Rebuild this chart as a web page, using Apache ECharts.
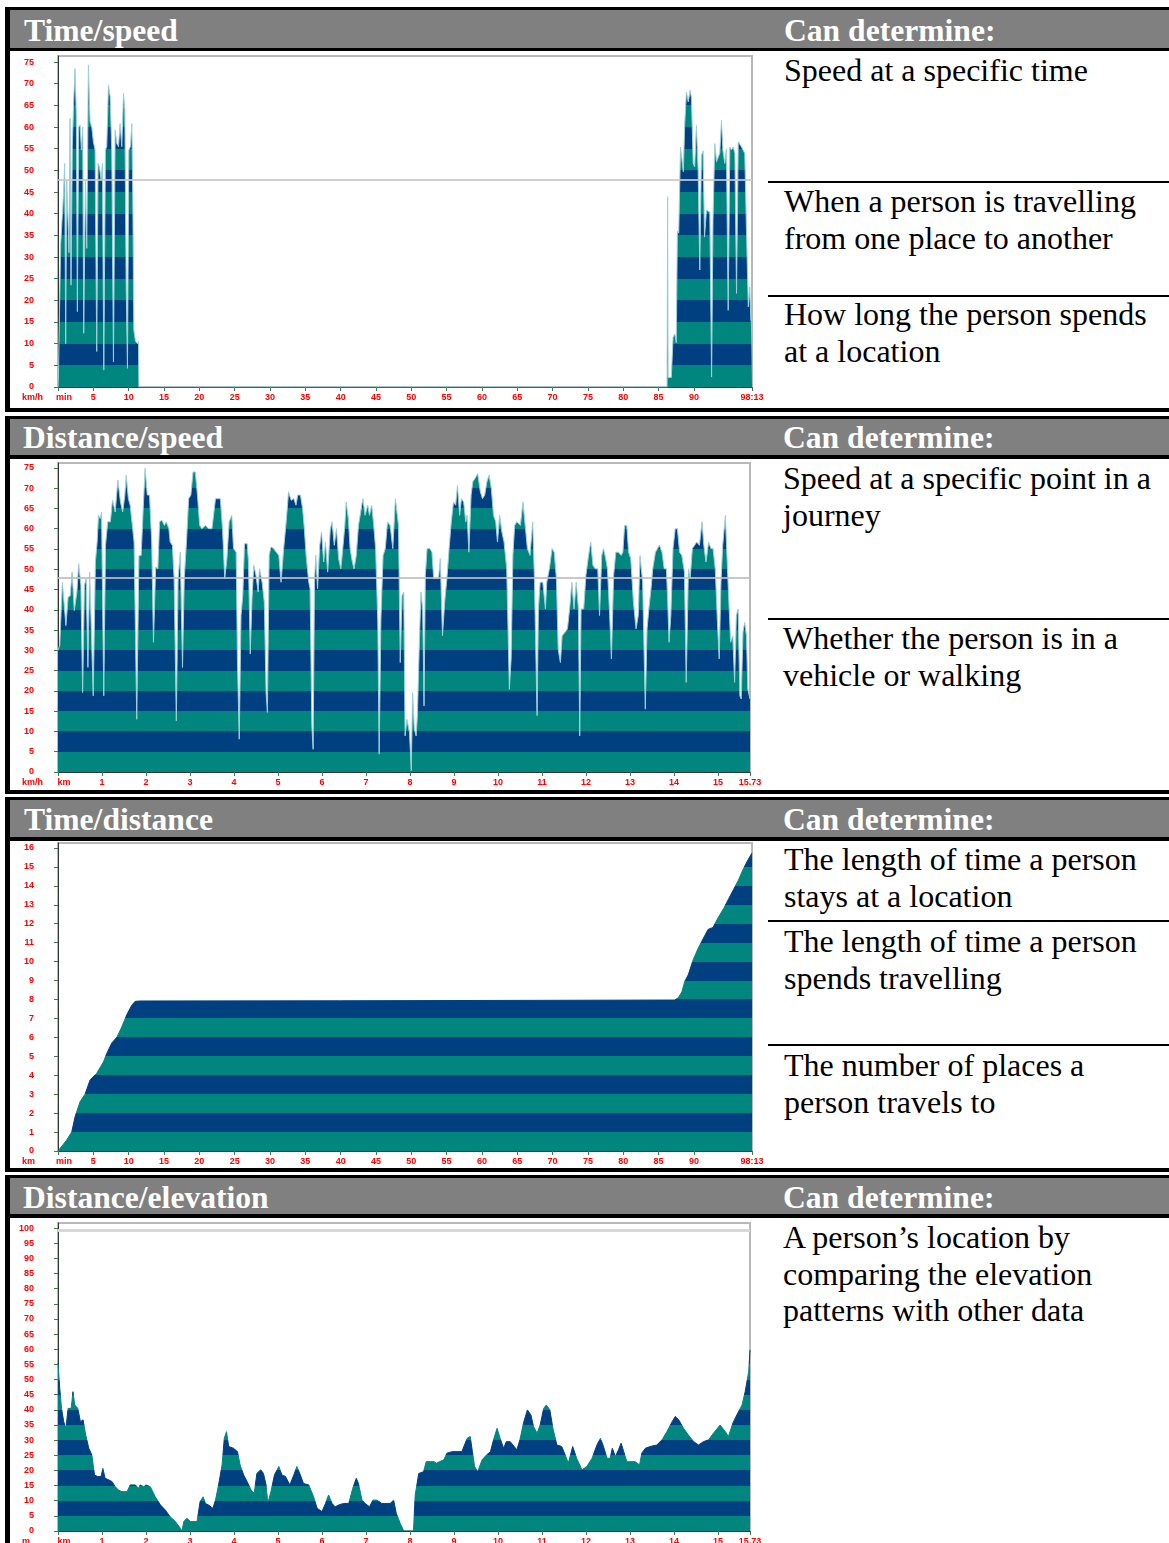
<!DOCTYPE html>
<html><head><meta charset="utf-8">
<script src="https://cdn.jsdelivr.net/npm/echarts@6/dist/echarts.min.js"></script>
<style>
html,body{margin:0;padding:0;background:#fff;}
#page{position:relative;width:1169px;height:1543px;overflow:hidden;background:#fff;font-family:"Liberation Serif","Times New Roman",serif;}
.blk{position:absolute;background:#000;}
.hdr{position:absolute;background:#808080;}
.htxt{position:absolute;color:#fff;font-weight:bold;font-size:31.6px;line-height:31px;white-space:nowrap;}
.btxt{position:absolute;color:#000;font-size:32px;line-height:36.7px;white-space:nowrap;}
.chart{position:absolute;}
</style></head>
<body>
<div id="page">
  <!-- row 1 -->
  <div class="blk" style="left:5px;top:7px;width:1164px;height:3px"></div>
  <div class="hdr" style="left:10px;top:10px;width:1159px;height:38px"></div>
  <div class="blk" style="left:5px;top:48px;width:1164px;height:3px"></div>
  <div class="blk" style="left:5px;top:7px;width:5px;height:405px"></div>
  <div class="blk" style="left:5px;top:408px;width:1164px;height:4px"></div>
  <div class="htxt" style="left:24px;top:15px">Time/speed</div>
  <div class="htxt" style="left:784px;top:15px">Can determine:</div>
  <div class="blk" style="left:768px;top:181px;width:401px;height:2px"></div>
  <div class="blk" style="left:768px;top:295px;width:401px;height:2px"></div>
  <div class="btxt" style="left:784px;top:52px">Speed at a specific time</div>
  <div class="btxt" style="left:784px;top:183px">When a person is travelling<br>from one place to another</div>
  <div class="btxt" style="left:784px;top:296px">How long the person spends<br>at a location</div>
  <div class="chart" id="c1" style="left:10px;top:51px;width:758px;height:357px"></div>

  <!-- row 2 -->
  <div class="blk" style="left:5px;top:416px;width:1164px;height:3px"></div>
  <div class="hdr" style="left:10px;top:419px;width:1159px;height:36px"></div>
  <div class="blk" style="left:5px;top:455px;width:1164px;height:4px"></div>
  <div class="blk" style="left:5px;top:416px;width:5px;height:378px"></div>
  <div class="blk" style="left:5px;top:790px;width:1164px;height:4px"></div>
  <div class="htxt" style="left:23px;top:422px">Distance/speed</div>
  <div class="htxt" style="left:783px;top:422px">Can determine:</div>
  <div class="blk" style="left:768px;top:618px;width:401px;height:2px"></div>
  <div class="btxt" style="left:783px;top:460px">Speed at a specific point in a<br>journey</div>
  <div class="btxt" style="left:783px;top:620px">Whether the person is in a<br>vehicle or walking</div>
  <div class="chart" id="c2" style="left:10px;top:459px;width:758px;height:331px"></div>

  <!-- row 3 -->
  <div class="blk" style="left:5px;top:797px;width:1164px;height:3px"></div>
  <div class="hdr" style="left:10px;top:800px;width:1159px;height:37px"></div>
  <div class="blk" style="left:5px;top:837px;width:1164px;height:4px"></div>
  <div class="blk" style="left:5px;top:797px;width:5px;height:375px"></div>
  <div class="blk" style="left:5px;top:1168px;width:1164px;height:4px"></div>
  <div class="htxt" style="left:24px;top:804px">Time/distance</div>
  <div class="htxt" style="left:783px;top:804px">Can determine:</div>
  <div class="blk" style="left:768px;top:920px;width:401px;height:2px"></div>
  <div class="blk" style="left:768px;top:1044px;width:401px;height:2px"></div>
  <div class="btxt" style="left:784px;top:841px">The length of time a person<br>stays at a location</div>
  <div class="btxt" style="left:784px;top:923px">The length of time a person<br>spends travelling</div>
  <div class="btxt" style="left:784px;top:1047px">The number of places a<br>person travels to</div>
  <div class="chart" id="c3" style="left:10px;top:841px;width:758px;height:327px"></div>

  <!-- row 4 -->
  <div class="blk" style="left:5px;top:1175px;width:1164px;height:3px"></div>
  <div class="hdr" style="left:10px;top:1178px;width:1159px;height:36px"></div>
  <div class="blk" style="left:5px;top:1214px;width:1164px;height:4px"></div>
  <div class="blk" style="left:5px;top:1175px;width:5px;height:368px"></div>
  <div class="htxt" style="left:23px;top:1182px">Distance/elevation</div>
  <div class="htxt" style="left:783px;top:1182px">Can determine:</div>
  <div class="btxt" style="left:783px;top:1219px">A person’s location by<br>comparing the elevation<br>patterns with other data</div>
  <div class="chart" id="c4" style="left:10px;top:1218px;width:758px;height:325px"></div>
</div>
<script>
// ---------- data ----------
const timeTickValues = [0,5,10,15,20,25,30,35,40,45,50,55,60,65,70,75,80,85,90,98.22];
const timeTickLabels = ['min','5','10','15','20','25','30','35','40','45','50','55','60','65','70','75','80','85','90','98:13'];
const distTickValues = [0,1,2,3,4,5,6,7,8,9,10,11,12,13,14,15,15.73];
const distTickLabels = ['km','1','2','3','4','5','6','7','8','9','10','11','12','13','14','15','15.73'];
const speedTicks = [0,5,10,15,20,25,30,35,40,45,50,55,60,65,70,75];
const kmTicks = [0,1,2,3,4,5,6,7,8,9,10,11,12,13,14,15,16];
const elevTicks = [0,5,10,15,20,25,30,35,40,45,50,55,60,65,70,75,80,85,90,95,100];
const speedRefLine = 47.8;
const elevRefLine = 99.4;

// Time (min) / speed (km/h)
const timeSpeed = [
 [0,0],[0.05,1.6],[0.3,1.8],[0.38,32.8],[0.57,38.5],[0.76,44],[0.95,51.6],[1.09,10],[1.23,47.8],[1.42,47.8],
 [1.56,31],[1.70,62],[1.84,23.5],[2.03,55.5],[2.22,66],[2.41,73.5],[2.6,62.4],[2.74,17.4],[2.93,60],[3.12,60.5],
 [3.31,54.7],[3.5,60],[3.64,12.4],[3.88,47.8],[4.07,32],[4.30,74.3],[4.54,61.2],[4.78,60],[5.01,56.6],[5.25,54.7],
 [5.48,8.2],[5.67,51.6],[5.86,50.8],[6.1,47.8],[6.29,51.6],[6.48,3.9],[6.71,54.7],[6.9,55.5],[7.14,69.7],[7.38,67],
 [7.61,54.7],[7.85,5.8],[8.09,59.3],[8.32,56.2],[8.56,55.5],[8.79,60.8],[9.03,55.5],[9.27,67.8],[9.46,64],[9.65,23.5],
 [9.83,4.3],[10.02,54.7],[10.26,55.5],[10.45,60.8],[10.59,44],[10.73,13.2],[10.97,10.5],[11.16,10.8],[11.3,10],[11.39,10.6],
 [11.45,0],[86.2,0],[86.28,43.9],[86.35,2.2],[86.8,2.2],[87.05,11.5],[87.3,12.2],[87.5,10.2],[87.66,36],[87.85,35.5],
 [88.1,55.4],[88.5,49.7],[88.7,60.8],[88.94,68.1],[89.2,65.8],[89.46,68.5],[89.65,66.7],[89.9,51.6],[90.1,50.8],[90.35,60.4],
 [90.6,50],[90.83,27],[91.06,53.4],[91.3,54.5],[91.5,34.6],[91.77,40.8],[92.0,41.2],[92.25,40.4],[92.5,2.3],[92.7,38.5],
 [92.95,56.2],[93.2,52],[93.43,53],[93.66,54],[93.9,61.6],[94.1,54.7],[94.37,51.6],[94.6,55],[94.85,17.7],[95.08,55.4],
 [95.3,54.7],[95.56,55.4],[95.8,53.9],[96.03,21.6],[96.27,56.6],[96.5,57],[96.74,55.4],[96.98,55],[97.2,53.9],[97.45,35.4],
 [97.7,18.5],[97.9,23.1],[98.06,15.4],[98.22,15]
];

// Distance (km) / speed (km/h)
const distSpeed = [
 [0,30],[0.04,31.2],[0.07,39.4],[0.10,46.8],[0.14,46.8],[0.18,36.1],[0.23,43.1],[0.28,43.5],[0.32,49.3],[0.37,39.8],
 [0.43,44.4],[0.47,51.4],[0.52,46],[0.56,19.6],[0.60,46],[0.64,47.7],[0.68,25.8],[0.72,49.3],[0.76,49.7],[0.80,18.8],
 [0.85,51.8],[0.89,56.7],[0.92,63.3],[0.96,62.5],[0.99,64.1],[1.04,18.8],[1.08,55.9],[1.13,61.7],[1.19,61.7],[1.24,67],
 [1.30,64.1],[1.36,72],[1.42,66.6],[1.47,64.1],[1.52,68.3],[1.55,73.2],[1.60,67.4],[1.64,65.8],[1.69,60.8],[1.73,56.7],
 [1.79,13],[1.84,53.4],[1.89,53.4],[1.93,63.3],[1.98,74.9],[2.03,68.3],[2.08,68.3],[2.13,56.7],[2.17,32],[2.22,50.5],
 [2.27,50.1],[2.31,61.7],[2.36,62.1],[2.42,60.8],[2.46,61.7],[2.52,60],[2.55,56.7],[2.60,55.9],[2.64,47.7],[2.69,12.6],
 [2.73,47.7],[2.78,54.2],[2.83,25.8],[2.87,47.7],[2.92,56.7],[2.97,67.4],[3.02,68.3],[3.07,74],[3.12,74],[3.17,68.3],
 [3.22,60.8],[3.27,60],[3.35,60.8],[3.42,60],[3.50,60],[3.58,67.4],[3.63,67.4],[3.69,67.4],[3.74,60],[3.79,47.7],
 [3.84,52.6],[3.89,61.7],[3.95,63.3],[3.99,55.1],[4.05,54.2],[4.08,27],[4.12,8.1],[4.16,38.6],[4.20,43.5],[4.24,56.3],
 [4.30,56.3],[4.33,51.8],[4.37,29.1],[4.41,42.7],[4.45,51],[4.50,48.5],[4.55,44.4],[4.58,50.1],[4.64,46.8],[4.69,41.9],
 [4.73,19.6],[4.76,14.7],[4.80,53.4],[4.84,55.5],[4.90,55.1],[4.96,54.2],[5.02,53.4],[5.07,46.8],[5.13,55.1],[5.19,62.1],
 [5.24,69.1],[5.30,67],[5.36,67.4],[5.41,65.8],[5.45,68.3],[5.51,68.3],[5.56,65],[5.60,60],[5.64,53.4],[5.70,46.8],
 [5.73,45.2],[5.77,11.4],[5.80,5.6],[5.83,46.8],[5.86,53.4],[5.90,45.2],[5.95,55.9],[5.99,59.2],[6.04,51.8],[6.08,56.7],
 [6.13,49.3],[6.19,60],[6.23,61.7],[6.28,55.9],[6.33,60],[6.38,52.6],[6.43,50.1],[6.48,55.9],[6.52,60.8],[6.55,66.6],
 [6.60,62.5],[6.64,55.1],[6.69,51.8],[6.73,50.1],[6.78,53.4],[6.83,60.8],[6.87,60.8],[6.93,67.4],[6.98,63.3],[7.04,65.8],
 [7.08,63.3],[7.13,65.8],[7.17,61.7],[7.22,55.1],[7.27,36.9],[7.30,4.4],[7.34,37.8],[7.39,53.4],[7.44,55.1],[7.49,61.7],
 [7.55,60.8],[7.61,55.1],[7.67,67.4],[7.74,60.8],[7.78,27],[7.82,43.5],[7.86,44.4],[7.89,8.9],[7.93,13],[7.99,9.7],
 [8.03,0.3],[8.06,19.6],[8.10,10.6],[8.14,8.9],[8.17,13.9],[8.21,30.3],[8.25,44.4],[8.29,40.2],[8.32,16.3],[8.35,48.5],
 [8.39,55.1],[8.45,55.1],[8.50,54.2],[8.54,47.7],[8.60,47.7],[8.65,47.7],[8.69,52.6],[8.74,33.6],[8.79,41.9],[8.84,47.7],
 [8.89,55.1],[8.94,61.7],[8.99,66.6],[9.04,65.8],[9.08,70.7],[9.13,63.3],[9.17,67.4],[9.22,66.6],[9.27,61.7],[9.30,63.3],
 [9.34,54.2],[9.39,68.3],[9.43,71.6],[9.48,72.4],[9.54,73.6],[9.60,69.1],[9.65,67.4],[9.70,68.3],[9.75,71.6],[9.80,73.2],
 [9.85,69.9],[9.90,63.3],[9.95,61.7],[9.99,56.7],[10.04,63.3],[10.09,59.2],[10.14,56.7],[10.20,50.1],[10.26,20.4],[10.30,27.9],
 [10.34,53.4],[10.38,60.8],[10.43,61.7],[10.51,60.8],[10.57,66.6],[10.62,60.8],[10.67,55.1],[10.73,53.4],[10.79,61.7],[10.83,47.7],
 [10.89,13.9],[10.92,40.2],[10.96,46.8],[11.02,46.8],[11.08,40.2],[11.11,46.8],[11.17,50.1],[11.23,55.1],[11.28,54.2],[11.33,47.7],
 [11.37,30.3],[11.42,27],[11.46,33.6],[11.53,34.5],[11.58,35.3],[11.63,40.2],[11.68,46.8],[11.73,40.2],[11.78,46.8],[11.83,40.2],
 [11.86,8.9],[11.89,40.2],[11.95,40.2],[12.0,48.5],[12.06,53.4],[12.11,56.7],[12.16,51],[12.21,50.1],[12.27,50.1],[12.31,38.6],
 [12.36,53.4],[12.40,55.1],[12.45,52.6],[12.49,50.1],[12.54,38.6],[12.58,27.9],[12.63,48.5],[12.68,54.2],[12.74,54.2],[12.80,53.4],
 [12.84,54.2],[12.88,60.8],[12.93,60.8],[12.97,54.2],[13.02,52.6],[13.08,41.9],[13.14,35.3],[13.19,38.6],[13.23,53.4],[13.29,46.8],
 [13.35,15.5],[13.39,35.3],[13.43,40.2],[13.48,45.2],[13.52,50.1],[13.58,54.2],[13.63,55.1],[13.67,55.9],[13.73,54.2],[13.78,50.1],
 [13.83,50.1],[13.86,41.9],[13.89,32],[13.93,38.6],[13.98,55.1],[14.03,60],[14.08,60],[14.13,54.2],[14.18,53.4],[14.24,49.3],
 [14.28,22.1],[14.33,50.1],[14.37,47.7],[14.42,55.1],[14.47,55.9],[14.52,56.7],[14.58,55.9],[14.64,61.7],[14.68,55.9],[14.73,51.8],
 [14.79,56.7],[14.84,55.1],[14.89,55.1],[14.94,50.1],[14.99,36.9],[15.03,27.9],[15.07,46.8],[15.11,55.9],[15.17,63.3],[15.20,55.1],
 [15.25,41.9],[15.29,32],[15.34,33.6],[15.38,22.1],[15.42,38.6],[15.46,40.2],[15.50,18.8],[15.53,18],[15.57,34.5],[15.61,36.9],
 [15.65,33.6],[15.68,20.4],[15.73,18]
];

// Time (min) / distance (km)
const timeDist = [
 [0,0],[0.28,0],[1.23,0.58],[1.94,1.0],[2.41,1.8],[3.12,2.6],[3.83,3.0],[4.54,3.75],[5.48,4.1],[6.43,4.7],
 [6.9,5.15],[7.61,5.7],[8.32,6.0],[9.03,6.55],[9.74,7.2],[10.45,7.7],[10.92,7.9],[11.63,7.92],[40.0,7.93],[40.2,7.97],
 [87.3,7.97],[87.8,8.1],[88.3,8.4],[88.7,8.95],[89.2,9.3],[89.9,10.1],[90.6,10.7],[91.3,11.2],[92.0,11.7],[92.7,11.8],
 [93.4,12.3],[94.2,12.8],[94.9,13.3],[95.6,13.8],[96.3,14.3],[97.0,14.9],[97.7,15.4],[98.22,15.73]
];

// Distance (km) / elevation (m)
const distElev = [
 [0,55.4],[0.04,47.1],[0.08,40.5],[0.13,36.1],[0.18,33.9],[0.23,40.5],[0.30,40.5],[0.34,46],[0.38,41.6],[0.45,40.5],
 [0.51,36.1],[0.57,36.7],[0.63,31.7],[0.70,27.3],[0.77,25.1],[0.83,18.5],[0.90,18],[0.98,18],[1.02,20.7],[1.07,17.4],
 [1.15,16.9],[1.23,16.3],[1.30,14.6],[1.38,13.5],[1.45,13],[1.57,13],[1.64,15.2],[1.76,15.2],[1.83,14.1],[1.87,15.2],
 [1.95,14.6],[2.0,15.2],[2.10,14.6],[2.21,11.3],[2.33,8.6],[2.44,6.9],[2.55,4.7],[2.67,3.1],[2.78,0.9],[2.82,0],
 [2.86,3.1],[2.93,4.2],[3.01,3.1],[3.16,3.1],[3.23,9.7],[3.30,11.3],[3.35,9.1],[3.42,8.6],[3.52,7.5],[3.58,10.2],
 [3.65,15.2],[3.73,21.8],[3.78,30.6],[3.83,32.8],[3.88,27.9],[3.99,27.3],[4.08,26.2],[4.14,21.8],[4.22,18.5],[4.30,16.3],
 [4.39,13.5],[4.46,12.4],[4.52,19],[4.61,20.2],[4.67,19],[4.73,15.2],[4.77,9.1],[4.84,13],[4.92,18.5],[5.02,21.3],
 [5.09,18.5],[5.17,18],[5.27,15.2],[5.36,18.5],[5.43,21.3],[5.51,18.5],[5.58,15.7],[5.70,15.2],[5.81,11.3],[5.89,7.5],
 [6.0,6.4],[6.08,9.1],[6.15,11.9],[6.23,9.1],[6.30,8.0],[6.38,8.6],[6.49,9.1],[6.61,9.1],[6.70,14.1],[6.78,17.4],
 [6.83,15.7],[6.91,10.2],[6.98,9.1],[7.08,8.0],[7.16,10.2],[7.25,10.2],[7.36,9.1],[7.55,9.1],[7.63,10.2],[7.69,5.8],
 [7.78,2.5],[7.86,0],[8.08,0],[8.12,11.9],[8.20,19],[8.31,19.6],[8.37,22.9],[8.46,22.9],[8.55,22.9],[8.60,22.4],
 [8.67,22.9],[8.77,23.5],[8.84,25.7],[8.96,26.2],[9.07,26.2],[9.18,26.2],[9.30,30.6],[9.37,31.2],[9.42,26.2],[9.47,21.3],
 [9.54,19.6],[9.64,23.5],[9.74,25.1],[9.83,26.2],[9.90,30.1],[9.98,33.9],[10.05,30.6],[10.13,27.3],[10.19,29.5],[10.28,29.5],
 [10.37,27.9],[10.43,26.8],[10.50,30.1],[10.58,35.6],[10.67,40],[10.75,38.3],[10.81,34.5],[10.89,32.3],[10.96,35],[11.04,40.5],
 [11.10,41.6],[11.18,40],[11.25,33.9],[11.34,28.4],[11.45,27.9],[11.53,25.1],[11.60,22.4],[11.70,27.9],[11.79,24],[11.91,20.2],
 [12.02,21.3],[12.14,24],[12.25,28.4],[12.33,30.6],[12.40,27.9],[12.48,24],[12.55,24],[12.60,27.3],[12.67,24.6],[12.74,26.8],
 [12.80,29],[12.86,26.2],[12.93,22.9],[13.02,22.9],[13.12,22.9],[13.22,21.8],[13.27,25.7],[13.35,27.3],[13.46,27.9],[13.61,28.4],
 [13.73,30.1],[13.84,32.8],[13.96,36.1],[14.03,37.8],[14.11,36.7],[14.22,33.9],[14.33,31.7],[14.45,29.5],[14.56,28.4],[14.67,29.5],
 [14.79,30.1],[14.90,32.3],[15.05,35],[15.17,32.8],[15.24,31.2],[15.34,35.6],[15.43,38.3],[15.55,41.6],[15.62,46],[15.70,52.6],
 [15.73,59.8]
];

// ---------- styling ----------
const TEAL = '#00857F', NAVY = '#004080';
const RED = '#ff0000';
function bands(step, max) {
  const p = [];
  for (let v = 0, i = 0; v < max; v += step, i++) p.push({ gte: v, lt: v + step, color: i % 2 === 0 ? TEAL : NAVY });
  return p;
}
function makeChart(id, cfg) {
  const el = document.getElementById(id);
  const chart = echarts.init(el, null, { renderer: 'canvas' });
  const H = el.clientHeight;
  const axisBottomY = H - cfg.grid[3];
  const series = [{
    type: 'line', data: cfg.data, showSymbol: false, symbol: 'none', smooth: false,
    lineStyle: cfg.lineStyle, areaStyle: { opacity: 1 }, z: 2,
    markLine: cfg.refLine == null ? undefined : {
      silent: true, symbol: ['none', 'none'], label: { show: false },
      lineStyle: { color: cfg.refColor, width: cfg.refWidth, type: 'solid' },
      data: [{ yAxis: cfg.refLine }]
    }
  }];
  chart.setOption({
    animation: false,
    grid: { left: cfg.grid[0], top: cfg.grid[1], right: cfg.grid[2], bottom: cfg.grid[3],
            show: true, borderColor: '#b8b8b8', borderWidth: 2, backgroundColor: '#fff',
            containLabel: false, outerBoundsMode: 'none' },
    xAxis: {
      type: 'value', min: 0, max: cfg.xMax,
      axisLine: { show: true, onZero: false, lineStyle: { color: '#2e3a33', width: 1 } },
      axisTick: { show: true, customValues: cfg.xTicks, length: 4, lineStyle: { color: '#3c7a4c' } },
      axisLabel: {
        customValues: cfg.xTicks, margin: 6, color: RED, fontSize: 9, fontWeight: 'bold', fontFamily: 'Liberation Sans',
        formatter: function (v) {
          const i = cfg.xTicks.findIndex(t => Math.abs(t - v) < 1e-6);
          const s = i >= 0 ? cfg.xLabels[i] : '';
          return i === 0 ? '{u|' + s + '}' : s;
        },
        rich: { u: { color: RED, fontSize: 9, fontWeight: 'bold', fontFamily: 'Liberation Sans', padding: [0, 0, 0, 12] } }
      },
      splitLine: { show: false }
    },
    yAxis: {
      type: 'value', min: 0, max: cfg.yMax,
      axisLine: { show: true, onZero: false, lineStyle: { color: '#2e3a33', width: 1 } },
      axisTick: { show: true, customValues: cfg.yTicks, length: 4, lineStyle: { color: '#3c7a4c' } },
      axisLabel: { customValues: cfg.yTicks, margin: 24, color: RED, fontSize: 9, fontWeight: 'bold', fontFamily: 'Liberation Sans' },
      splitLine: { show: false }
    },
    visualMap: { show: false, type: 'piecewise', dimension: 1, seriesIndex: 0, pieces: bands(cfg.band, cfg.yMax + cfg.band) },
    graphic: [{ type: 'text', left: 12, top: axisBottomY + 6,
                style: { text: cfg.yName, fill: RED, font: 'bold 9px "Liberation Sans"' } }],
    series: series
  });
}

const speedLine = { color: '#9fcfd8', width: 1 };
makeChart('c1', { data: timeSpeed, xMax: 98.22, yMax: 76.4, band: 5, grid: [48, 5, 16, 21],
  xTicks: timeTickValues, xLabels: timeTickLabels, yTicks: speedTicks, yName: 'km/h',
  lineStyle: speedLine, refLine: speedRefLine, refColor: 'rgba(200,200,200,0.85)', refWidth: 2 });
makeChart('c2', { data: distSpeed, xMax: 15.73, yMax: 76.2, band: 5, grid: [48, 4, 18, 18],
  xTicks: distTickValues, xLabels: distTickLabels, yTicks: speedTicks, yName: 'km/h',
  lineStyle: speedLine, refLine: speedRefLine, refColor: 'rgba(190,190,190,0.85)', refWidth: 2 });
makeChart('c3', { data: timeDist, xMax: 98.22, yMax: 16.26, band: 1, grid: [48, 2, 16, 17],
  xTicks: timeTickValues, xLabels: timeTickLabels, yTicks: kmTicks, yName: 'km',
  lineStyle: { width: 1 }, refLine: null });
makeChart('c4', { data: distElev, xMax: 15.73, yMax: 101.7, band: 5, grid: [48, 5, 18, 12],
  xTicks: distTickValues, xLabels: distTickLabels, yTicks: elevTicks, yName: 'm',
  lineStyle: { width: 1 }, refLine: elevRefLine, refColor: '#d8d8d8', refWidth: 3 });
</script>
</body></html>
